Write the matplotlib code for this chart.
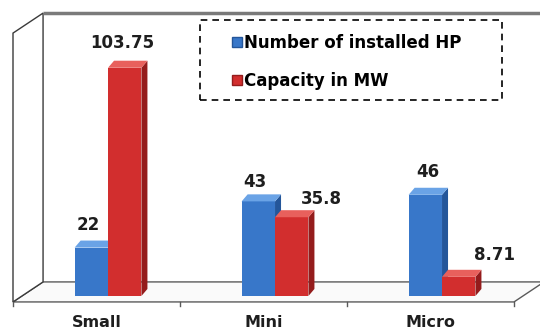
import numpy as np
import matplotlib.pyplot as plt
from matplotlib.patches import Polygon, Patch, Rectangle

# data
categories = ['Small', 'Mini', 'Micro']
installed_hp = [22, 43, 46]
capacity_mw = [103.75, 35.8, 8.71]
hp_labels = ['22', '43', '46']
mw_labels = ['103.75', '35.8', '8.71']
series_names = ['Number of installed HP', 'Capacity in MW']

#fake 3d look: box (floor + walls) and bars with a depth vector
FLOOR_FRONT = -2.7      # value of the front floor edge
BOX_DX, BOX_DY = 0.18, 9.1
WALL_TOP = 128.6
BAR_W = 0.2
BAR_SHIFT = 0.069       # bars stand a bit behind the front edge
BAR_DX, BAR_DY = 0.036, 3.2

colors = {
    'blue': ('#3877c9', '#6aa3e6', '#24569a'),
    'red': ('#d22e2e', '#e8605c', '#941c1c'),
}

#label nudges in pixels (x, y) from the front top of each bar
hp_nudge = [(-3, 23), (-3, 19), (2, 23)]
mw_nudge = [(-2, 25), (30, 18), (36, 22)]

def draw_bar(ax, x0, h, cols, z):
    front, top, side = cols
    ax.bar(x0, h, width=BAR_W, align='edge', color=front, linewidth=0, zorder=z)
    ax.add_patch(Polygon([(x0 + BAR_W, 0), (x0 + BAR_W + BAR_DX, BAR_DY),
                          (x0 + BAR_W + BAR_DX, h + BAR_DY), (x0 + BAR_W, h)],
                         closed=True, color=side, lw=0, zorder=z))
    ax.add_patch(Polygon([(x0, h), (x0 + BAR_W, h), (x0 + BAR_W + BAR_DX, h + BAR_DY),
                          (x0 + BAR_DX, h + BAR_DY)],
                         closed=True, color=top, lw=0, zorder=z))

fig = plt.figure(figsize=(5.4, 3.34), dpi=100)
ax = fig.add_axes([0, 0, 1, 1])
px_x = 167.0
px_y = 2.2
ax.set_xlim(-96.5 / px_x, (540 - 96.5) / px_x)
ax.set_ylim((296 - 334) / px_y, 296 / px_y)
ax.axis('off')

x_left = -0.5
x_right = len(categories) - 0.5
edge = '#5a5a5a'

# floor
floor = [(x_left, FLOOR_FRONT), (x_right, FLOOR_FRONT),
         (x_right + BOX_DX, FLOOR_FRONT + BOX_DY), (x_left + BOX_DX, FLOOR_FRONT + BOX_DY)]
ax.add_patch(Polygon(floor, closed=True, facecolor='#fafafa', edgecolor=edge, lw=1.0, zorder=1))
# left wall
left_wall = [(x_left, FLOOR_FRONT), (x_left + BOX_DX, FLOOR_FRONT + BOX_DY),
             (x_left + BOX_DX, WALL_TOP), (x_left, WALL_TOP - BOX_DY)]
ax.add_patch(Polygon(left_wall, closed=True, facecolor='white', edgecolor='#3a3a3a', lw=1.0, zorder=1))
# back wall top edge
ax.plot([x_left + BOX_DX, x_right + 0.5], [WALL_TOP, WALL_TOP], color='#7a7a7a', lw=2.5,
        solid_capstyle='butt', zorder=1)
# ticks on the front floor edge
for t in np.arange(x_left, x_right + 0.01, 1.0):
    ax.plot([t, t], [FLOOR_FRONT, FLOOR_FRONT - 2.0], color=edge, lw=1.0, zorder=1)

z = 3
for i in range(len(categories)):
    xb = i + BAR_SHIFT - BAR_W
    xr = i + BAR_SHIFT
    draw_bar(ax, xb, installed_hp[i], colors['blue'], z)
    draw_bar(ax, xr, capacity_mw[i], colors['red'], z + 1)
    z += 2
    ax.annotate(hp_labels[i], xy=(xb + BAR_W / 2, installed_hp[i]), xytext=hp_nudge[i],
                textcoords='offset pixels', ha='center', va='center',
                fontsize=12, fontweight='bold', color='#1e1e1e')
    ax.annotate(mw_labels[i], xy=(xr + BAR_W / 2, capacity_mw[i]), xytext=mw_nudge[i],
                textcoords='offset pixels', ha='center', va='center',
                fontsize=12, fontweight='bold', color='#1e1e1e')
    ax.text(i, FLOOR_FRONT - 9.3, categories[i], ha='center', va='center',
            fontsize=11.5, fontweight='bold', color='#1e1e1e')

# legend: dashed box drawn on its own, entries without frame
W, H = 540.0, 334.0
ax.add_patch(Rectangle((200 / W, 1 - 100 / H), 302 / W, 80 / H, transform=fig.transFigure,
                       facecolor='white', edgecolor='black', lw=1.2,
                       linestyle=(0, (4, 3)), zorder=9))
handles = [Patch(facecolor=colors['blue'][0], edgecolor=colors['blue'][2]),
           Patch(facecolor=colors['red'][0], edgecolor=colors['red'][2])]
leg = ax.legend(handles, series_names, loc='upper left', bbox_to_anchor=(232 / W, 1 - 34 / H),
                bbox_transform=fig.transFigure, frameon=False,
                prop={'weight': 'bold', 'size': 12}, handlelength=0.6, handleheight=0.6,
                handletextpad=0.12, labelspacing=1.2, borderpad=0, borderaxespad=0)
leg.set_zorder(10)

fig.savefig('out.png', dpi=100)
